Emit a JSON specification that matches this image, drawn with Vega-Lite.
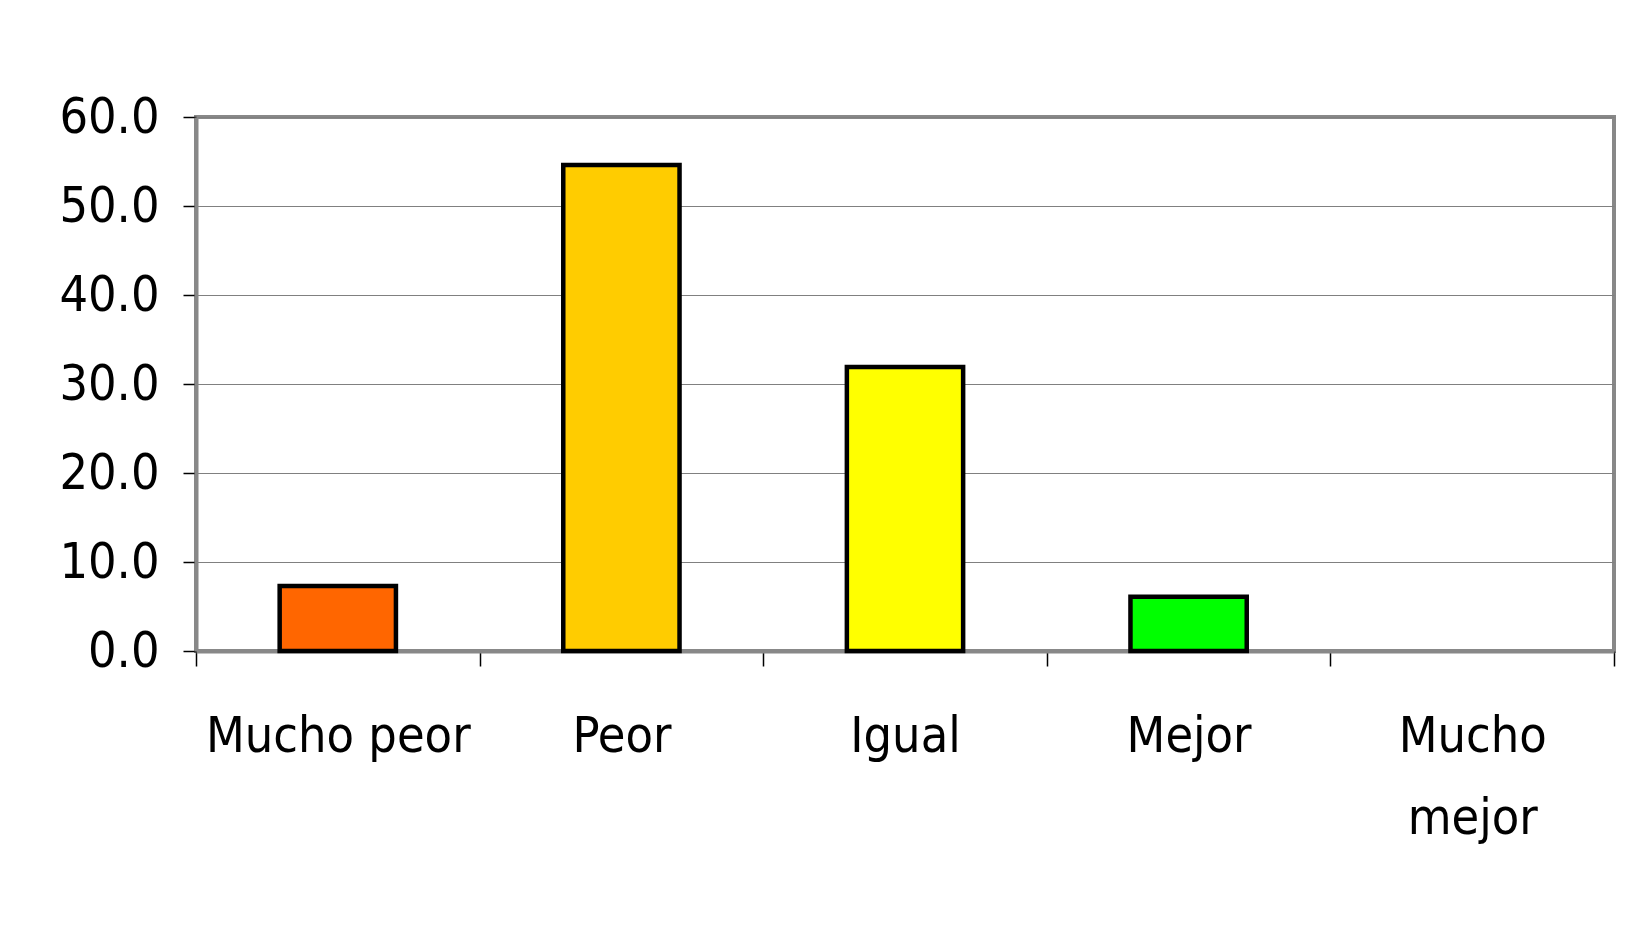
{
  "$schema": "https://vega.github.io/schema/vega-lite/v6.json",
  "autosize": {"type": "none"},
  "width": 1418,
  "height": 534,
  "padding": {"left": 196, "top": 117, "right": 27, "bottom": 278},
  "background": "white",
  "data": {
    "values": [
      {"cat": "Mucho peor", "pct": 7.3},
      {"cat": "Peor", "pct": 54.6},
      {"cat": "Igual", "pct": 31.9},
      {"cat": "Mejor", "pct": 6.1},
      {"cat": "Mucho mejor", "pct": null}
    ]
  },
  "config": {
    "view": {"stroke": "#888888", "strokeWidth": 4},
    "axis": {"labelFont": "'Liberation Sans Narrow', 'Arial Narrow', 'DejaVu Sans Condensed', 'Liberation Sans', sans-serif", "labelColor": "black", "labelFontSize": 50, "labelLimit": 0}
  },
  "mark": {"type": "bar", "stroke": "black", "strokeWidth": 4.5, "width": {"band": 0.41}},
  "encoding": {
    "x": {
      "field": "cat",
      "type": "nominal",
      "sort": null,
      "scale": {"domain": ["Mucho peor", "Peor", "Igual", "Mejor", "Mucho mejor"], "paddingInner": 0, "paddingOuter": 0},
      "axis": {
        "title": null,
        "labelAngle": 0,
        "tickBand": "extent",
        "tickSize": 15,
        "tickColor": "black",
        "tickWidth": 1.5,
        "domainColor": "#888888",
        "domainWidth": 4,
        "labelPadding": 45,
        "labelBaseline": "top",
        "labelLineHeight": 82,
        "labelExpr": "datum.value == 'Mucho mejor' ? ['Mucho', 'mejor'] : datum.value"
      }
    },
    "y": {
      "field": "pct",
      "type": "quantitative",
      "scale": {"domain": [0, 60], "nice": false},
      "axis": {
        "title": null,
        "values": [0, 10, 20, 30, 40, 50, 60],
        "format": ".1f",
        "tickSize": 13,
        "tickColor": "black",
        "tickWidth": 1.5,
        "domainColor": "#888888",
        "domainWidth": 4,
        "gridColor": "#808080",
        "gridWidth": 1.2,
        "gridOpacity": 1,
        "labelPadding": 24
      }
    },
    "color": {
      "field": "cat",
      "type": "nominal",
      "scale": {"domain": ["Mucho peor", "Peor", "Igual", "Mejor", "Mucho mejor"], "range": ["#FF6600", "#FFCC00", "#FFFF00", "#00FF00", "#0000FF"]},
      "legend": null
    }
  }
}
